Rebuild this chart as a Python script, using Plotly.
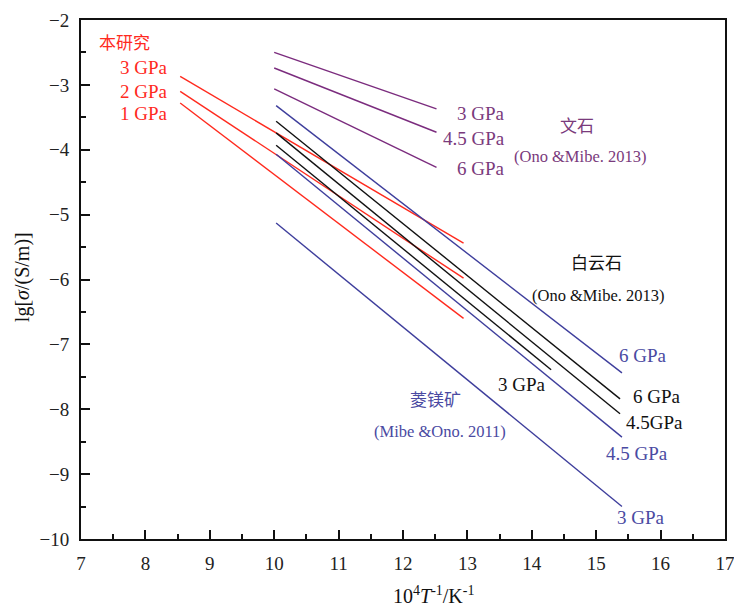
import plotly.graph_objects as go

# ---- data ----
# 本研究 (this study)
red_x = [8.54, 12.94]
red_3gpa = [-2.87, -5.44]
red_2gpa = [-3.10, -5.98]
red_1gpa = [-3.28, -6.60]

# 文石 aragonite (Ono & Mibe 2013)
arag_x = [10.0, 12.52]
arag_3gpa = [-2.50, -3.37]
arag_45gpa = [-2.74, -3.73]
arag_6gpa = [-3.06, -4.27]

# 菱镁矿 magnesite (Mibe & Ono 2011)
mag_x = [10.03, 15.40]
mag_6gpa = [-3.32, -7.44]
mag_45gpa = [-4.07, -8.43]
mag_3gpa = [-5.13, -9.50]

# 白云石 dolomite (Ono & Mibe 2013)
dol_x = [10.03, 15.37]
dol_6gpa = [-3.56, -7.84]
dol_45gpa = [-3.74, -8.07]
dol3_x = [10.03, 14.30]
dol_3gpa = [-3.93, -7.39]

x_ticks = [7, 8, 9, 10, 11, 12, 13, 14, 15, 16, 17]
y_ticks = [-2, -3, -4, -5, -6, -7, -8, -9, -10]

RED = "#FF2A1E"
PURPLE = "#7B2C7E"
BLUE = "#3E3E9C"
BLACK = "#111111"
PURPLE_T = "#7A3A7C"
BLUE_T = "#4A4AA2"

SERIF = "Liberation Serif"
CJK = "Noto Sans CJK SC"

fig = go.Figure()

def add_line(x, y, color):
    fig.add_trace(go.Scatter(x=x, y=y, mode="lines",
                             line=dict(color=color, width=1.4),
                             showlegend=False, hoverinfo="skip"))

for y in (red_3gpa, red_2gpa, red_1gpa):
    add_line(red_x, y, RED)
for y in (arag_3gpa, arag_45gpa, arag_6gpa):
    add_line(arag_x, y, PURPLE)
for y in (mag_6gpa, mag_45gpa, mag_3gpa):
    add_line(mag_x, y, BLUE)
add_line(dol_x, dol_6gpa, BLACK)
add_line(dol_x, dol_45gpa, BLACK)
add_line(dol3_x, dol_3gpa, BLACK)

ann = []
def label(text, x, y, color, size=19, font=SERIF, xanchor="center"):
    ann.append(dict(text=text, x=x, y=y, xref="x", yref="y", showarrow=False,
                    xanchor=xanchor, yanchor="middle",
                    font=dict(family=font, size=size, color=color)))

# this study
label("本研究", 7.68, -2.33, RED, 17, CJK)
label("3 GPa", 8.38, -2.73, RED, xanchor="right")
label("2 GPa", 8.38, -3.10, RED, xanchor="right")
label("1 GPa", 8.38, -3.44, RED, xanchor="right")

# aragonite
label("3 GPa", 13.61, -3.44, PURPLE_T, xanchor="right")
label("4.5 GPa", 13.61, -3.83, PURPLE_T, xanchor="right")
label("6 GPa", 13.61, -4.29, PURPLE_T, xanchor="right")
label("文石", 14.70, -3.61, PURPLE_T, 17, CJK)
label("(Ono &amp;Mibe. 2013)", 14.75, -4.11, PURPLE_T, 16.5)

# dolomite
label("白云石", 15.01, -5.73, BLACK, 17, CJK)
label("(Ono &amp;Mibe. 2013)", 15.03, -6.24, BLACK, 16.5)
label("3 GPa", 13.84, -7.62, BLACK)
label("6 GPa", 15.94, -7.81, BLACK)
label("4.5GPa", 15.90, -8.20, BLACK)

# magnesite
label("6 GPa", 15.73, -7.17, BLUE_T)
label("4.5 GPa", 15.64, -8.68, BLUE_T)
label("3 GPa", 15.70, -9.67, BLUE_T)
label("菱镁矿", 12.50, -7.84, BLUE_T, 17, CJK)
label("(Mibe &amp;Ono. 2011)", 12.57, -8.34, BLUE_T, 16.5)

# axis titles
ann.append(dict(text="lg[<i>σ</i>/(S/m)]", x=-0.0905, y=0.504, xref="paper", yref="paper",
                showarrow=False, textangle=-90, xanchor="center", yanchor="middle",
                font=dict(family=SERIF, size=20, color=BLACK)))
ann.append(dict(text="10<sup>4</sup><i>T</i><sup>-1</sup>/K<sup>-1</sup>", x=0.548, y=-0.108,
                xref="paper", yref="paper", showarrow=False, xanchor="center", yanchor="middle",
                font=dict(family=SERIF, size=20, color=BLACK)))

axis_common = dict(showgrid=False, zeroline=False, showline=True, linecolor=BLACK,
                   linewidth=2, mirror=True, ticks="inside", ticklen=9, tickwidth=2,
                   tickcolor=BLACK, automargin=False, ticklabeloverflow="allow",
                   tickfont=dict(family=SERIF, size=19, color="#222222"))

fig.update_layout(
    width=734, height=607,
    margin=dict(l=81, r=9, t=20, b=68),
    paper_bgcolor="white", plot_bgcolor="white",
    annotations=ann,
    xaxis=dict(range=[7, 17], tickvals=x_ticks, ticktext=[str(v) for v in x_ticks],
               minor=dict(dtick=0.5, ticks="inside", ticklen=5, tickwidth=2, tickcolor=BLACK),
               ticklabelstandoff=6, **axis_common),
    yaxis=dict(range=[-10, -2], tickvals=y_ticks,
               ticktext=["\u2212" + str(-v) for v in y_ticks],
               minor=dict(dtick=0.5, ticks="inside", ticklen=5, tickwidth=2, tickcolor=BLACK),
               ticklabelstandoff=6, **axis_common),
)

fig.write_html("out.html")
